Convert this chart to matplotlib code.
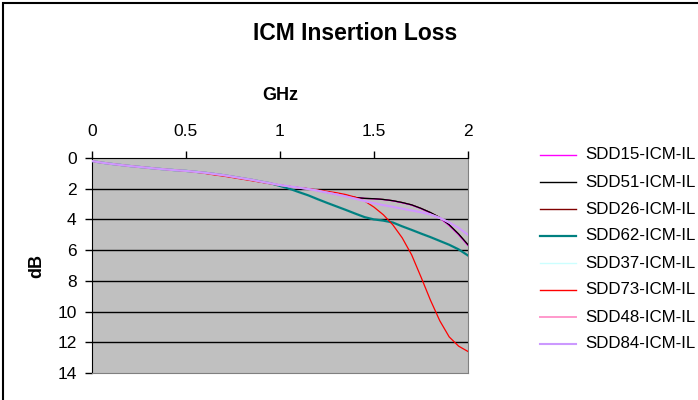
import matplotlib
matplotlib.use("Agg")
import matplotlib.pyplot as plt
from matplotlib.lines import Line2D
from matplotlib.patches import Rectangle

plt.rcParams['font.family'] = ['Liberation Sans', 'DejaVu Sans']

freq = [0.00, 0.05, 0.10, 0.15, 0.20, 0.25, 0.30, 0.35, 0.40, 0.45, 0.50,
        0.55, 0.60, 0.65, 0.70, 0.75, 0.80, 0.85, 0.90, 0.95, 1.00,
        1.05, 1.10, 1.15, 1.20, 1.25, 1.30, 1.35, 1.40, 1.45, 1.50,
        1.55, 1.60, 1.65, 1.70, 1.75, 1.80, 1.85, 1.90, 1.95, 2.00]

base_low = [0.20, 0.30, 0.38, 0.45, 0.52, 0.58, 0.64, 0.70, 0.75, 0.80, 0.84,
            0.90, 0.96, 1.04, 1.12, 1.22, 1.32, 1.42, 1.54, 1.65]

il_black = base_low + [1.76, 1.85, 1.93, 2.00, 2.12, 2.24, 2.36, 2.47, 2.57, 2.63, 2.65,
                       2.70, 2.78, 2.90, 3.05, 3.28, 3.55, 3.88, 4.35, 4.95, 5.65]
il_magenta = base_low + [1.76, 1.85, 1.93, 2.00, 2.12, 2.24, 2.36, 2.47, 2.57, 2.63, 2.66,
                         2.71, 2.79, 2.92, 3.07, 3.30, 3.58, 3.92, 4.40, 5.00, 5.70]
il_lav = base_low + [1.76, 1.85, 1.93, 2.02, 2.13, 2.25, 2.37, 2.50, 2.65, 2.80, 2.95,
                     3.07, 3.18, 3.30, 3.42, 3.53, 3.68, 3.90, 4.20, 4.55, 5.00]
il_teal = base_low + [1.82, 2.00, 2.22, 2.43, 2.68, 2.92, 3.15, 3.38, 3.62, 3.85, 4.00,
                      4.08, 4.20, 4.45, 4.68, 4.92, 5.15, 5.40, 5.65, 5.95, 6.35]
il_red = [0.20, 0.30, 0.38, 0.45, 0.52, 0.58, 0.64, 0.70, 0.75, 0.80, 0.85,
          0.92, 1.00, 1.10, 1.18, 1.28, 1.38, 1.48, 1.58, 1.68, 1.78,
          1.85, 1.93, 2.00, 2.08, 2.17, 2.26, 2.38, 2.55, 2.80, 3.20,
          3.70, 4.35, 5.20, 6.30, 7.75, 9.25, 10.60, 11.65, 12.25, 12.60]

series_names = ["SDD15-ICM-IL", "SDD51-ICM-IL", "SDD26-ICM-IL", "SDD62-ICM-IL",
                "SDD37-ICM-IL", "SDD73-ICM-IL", "SDD48-ICM-IL", "SDD84-ICM-IL"]
series_data = [il_magenta, il_black, il_black, il_teal, il_teal, il_red, il_lav, il_lav]
colors = ["#FF00FF", "#000000", "#800000", "#008080", "#CCFFFF", "#FF0000", "#FF99CC", "#CC99FF"]
widths = [0.9, 0.9, 0.9, 1.6, 0.9, 0.9, 1.4, 1.5]
zorders = [3, 4, 2, 3, 2, 5, 5, 6]

x_ticks = [0, 0.5, 1, 1.5, 2]
x_labels = ["0", "0.5", "1", "1.5", "2"]
y_ticks = [0, 2, 4, 6, 8, 10, 12, 14]

W, H = 698, 400
fig = plt.figure(figsize=(W / 100, H / 100), dpi=100)
ax = fig.add_axes([92 / W, 1 - 373 / H, (468 - 92) / W, (373 - 158) / H])
ax.set_facecolor("#C0C0C0")

for yt in y_ticks[1:-1]:
    ax.axhline(yt, color="black", lw=1.0, zorder=1)

for name, d, c, w, z in zip(series_names, series_data, colors, widths, zorders):
    ax.plot(freq, d, color=c, lw=w, zorder=z)

ax.set_xlim(0, 2)
ax.set_ylim(14, 0)
ax.xaxis.tick_top()
ax.set_xticks(x_ticks)
ax.set_xticklabels(x_labels, fontsize=12.5)
ax.set_yticks(y_ticks)
ax.set_yticklabels([str(v) for v in y_ticks], fontsize=12.5)
ax.tick_params(axis="x", direction="out", length=5, width=1, pad=9, top=True, bottom=False)
ax.tick_params(axis="y", direction="out", length=5, width=1, pad=6)
ax.spines["left"].set_color("black")
ax.spines["top"].set_color("black")
ax.spines["right"].set_color("#808080")
ax.spines["bottom"].set_color("#808080")

fig.text(355 / W, 1 - 33 / H, "ICM Insertion Loss", ha="center", va="center",
         fontsize=16.5, fontweight="bold")
fig.text(280 / W, 1 - 96 / H, "GHz", ha="center", va="center", fontsize=13, fontweight="bold")
fig.text(37 / W, 1 - 266 / H, "dB", ha="center", va="center", fontsize=13,
         fontweight="bold", rotation=90)

# legend
for i, (name, c, w) in enumerate(zip(series_names, colors, widths)):
    yy = 1 - (155 + 27 * i) / H
    fig.add_artist(Line2D([540 / W, 576 / W], [yy, yy], color=c, lw=max(w, 1.0),
                          transform=fig.transFigure))
    fig.text(585 / W, yy, name, ha="left", va="center", fontsize=12.2)

fig.add_artist(Rectangle((3 / W, -0.1), 1.0, 1 - 3 / H + 0.1, fill=False,
                         edgecolor="black", lw=1.5, transform=fig.transFigure))

fig.savefig("out.png", dpi=100, facecolor="white")
